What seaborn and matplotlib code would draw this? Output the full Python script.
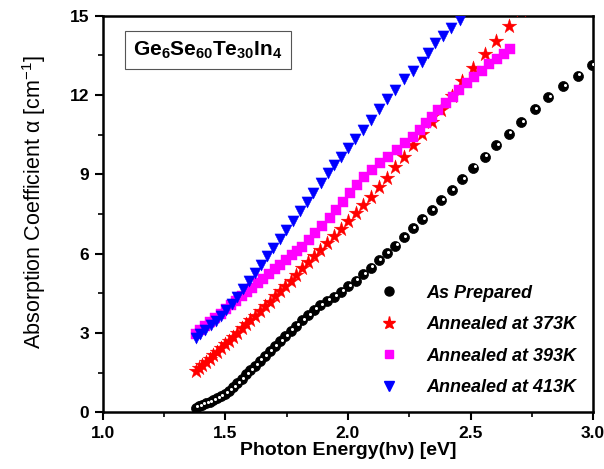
import numpy as np
import pandas as pd
import matplotlib
matplotlib.use("Agg")
import matplotlib.pyplot as plt
import matplotlib.transforms as mtransforms
from matplotlib.lines import Line2D
import seaborn as sns

# ---------------- data ----------------
E_prep = [1.378, 1.392, 1.406, 1.420, 1.435, 1.450, 1.466, 1.481, 1.498, 1.514,
          1.531, 1.548, 1.566, 1.584, 1.602, 1.621, 1.640, 1.660, 1.680, 1.701,
          1.722, 1.744, 1.766, 1.789, 1.813, 1.837, 1.862, 1.887, 1.914, 1.943,
          1.972, 2.001, 2.031, 2.062, 2.093, 2.125, 2.158, 2.192, 2.227, 2.264,
          2.302, 2.341, 2.381, 2.423, 2.466, 2.511, 2.558, 2.606, 2.656, 2.708,
          2.762, 2.818, 2.877, 2.938, 2.995]
a_prep = [0.17, 0.24, 0.29, 0.34, 0.39, 0.46, 0.53, 0.60, 0.70, 0.82,
          0.95, 1.09, 1.26, 1.43, 1.60, 1.77, 1.95, 2.13, 2.31, 2.50,
          2.68, 2.88, 3.08, 3.28, 3.48, 3.68, 3.88, 4.05, 4.22, 4.37,
          4.56, 4.78, 4.98, 5.22, 5.47, 5.76, 6.01, 6.30, 6.62, 6.96,
          7.30, 7.65, 8.03, 8.41, 8.81, 9.25, 9.67, 10.11, 10.54, 10.98,
          11.46, 11.91, 12.34, 12.73, 13.13]

E_373 = [1.378, 1.392, 1.406, 1.420, 1.435, 1.450, 1.466, 1.481, 1.498, 1.514,
         1.531, 1.548, 1.566, 1.584, 1.602, 1.621, 1.640, 1.660, 1.680, 1.701,
         1.722, 1.744, 1.766, 1.789, 1.813, 1.837, 1.862, 1.887, 1.914, 1.943,
         1.972, 2.001, 2.031, 2.062, 2.093, 2.125, 2.158, 2.192, 2.227, 2.264,
         2.302, 2.341, 2.381, 2.423, 2.466, 2.511, 2.558, 2.606, 2.656, 2.708]
a_373 = [1.55, 1.66, 1.78, 1.90, 2.02, 2.15, 2.29, 2.42, 2.57, 2.71,
         2.86, 3.01, 3.17, 3.33, 3.49, 3.66, 3.83, 4.01, 4.19, 4.38,
         4.57, 4.77, 4.98, 5.20, 5.44, 5.67, 5.90, 6.14, 6.39, 6.68,
         6.95, 7.23, 7.53, 7.85, 8.15, 8.51, 8.88, 9.26, 9.66, 10.10,
         10.51, 10.98, 11.45, 11.98, 12.53, 13.03, 13.55, 14.05, 14.62, 15.20]

E_393 = [1.378, 1.398, 1.418, 1.438, 1.459, 1.480, 1.501, 1.522, 1.544, 1.566,
         1.588, 1.610, 1.632, 1.655, 1.678, 1.701, 1.724, 1.747, 1.770, 1.792,
         1.813, 1.839, 1.864, 1.894, 1.925, 1.952, 1.980, 2.007, 2.037, 2.066,
         2.098, 2.132, 2.165, 2.200, 2.234, 2.265, 2.292, 2.319, 2.342, 2.369,
         2.399, 2.428, 2.455, 2.485, 2.515, 2.546, 2.577, 2.607, 2.635, 2.662]
a_393 = [2.95, 3.10, 3.26, 3.41, 3.57, 3.73, 3.89, 4.05, 4.22, 4.38,
         4.55, 4.72, 4.89, 5.06, 5.24, 5.41, 5.59, 5.76, 5.94, 6.10,
         6.27, 6.52, 6.77, 7.05, 7.34, 7.65, 7.97, 8.31, 8.60, 8.89,
         9.16, 9.42, 9.67, 9.92, 10.17, 10.42, 10.68, 10.93, 11.18, 11.43,
         11.69, 11.94, 12.19, 12.44, 12.67, 12.91, 13.16, 13.37, 13.55, 13.74]

E_413 = [1.378, 1.398, 1.418, 1.439, 1.460, 1.481, 1.503, 1.525, 1.548, 1.571,
         1.595, 1.619, 1.644, 1.669, 1.695, 1.721, 1.748, 1.775, 1.803, 1.831,
         1.859, 1.888, 1.917, 1.944, 1.971, 2.002, 2.030, 2.061, 2.094, 2.125,
         2.159, 2.193, 2.227, 2.265, 2.301, 2.328, 2.356, 2.387, 2.421, 2.457]
a_413 = [2.80, 2.96, 3.12, 3.29, 3.47, 3.66, 3.87, 4.10, 4.36, 4.65,
         4.96, 5.26, 5.58, 5.90, 6.23, 6.56, 6.90, 7.24, 7.60, 7.95,
         8.31, 8.67, 9.04, 9.35, 9.67, 9.98, 10.34, 10.68, 11.06, 11.47,
         11.85, 12.19, 12.61, 12.92, 13.26, 13.60, 13.96, 14.24, 14.52, 14.83]

labels = ["As Prepared", "Annealed at 373K", "Annealed at 393K", "Annealed at 413K"]
xticks = [1.0, 1.5, 2.0, 2.5, 3.0]
yticks = [0, 3, 6, 9, 12, 15]
title_text = r"Ge$_{\mathbf{6}}$Se$_{\mathbf{60}}$Te$_{\mathbf{30}}$In$_{\mathbf{4}}$"

# ---------------- style ----------------
sns.set_style("ticks")
plt.rcParams["font.family"] = ["Liberation Sans", "DejaVu Sans"]
plt.rcParams["mathtext.fontset"] = "custom"
plt.rcParams["mathtext.rm"] = "Liberation Sans"
plt.rcParams["mathtext.bf"] = "Liberation Sans:bold"
plt.rcParams["mathtext.it"] = "Liberation Sans:italic"
for k in ["text.color", "axes.labelcolor", "xtick.color", "ytick.color", "axes.edgecolor"]:
    plt.rcParams[k] = "black"

fig = plt.figure(figsize=(6.04, 4.69), dpi=100)
ax = fig.add_axes([0.1705, 0.1209, 0.8113, 0.8456])

df_prep = pd.DataFrame({"E": E_prep, "a": a_prep})
df_373 = pd.DataFrame({"E": E_373, "a": a_373})
df_393 = pd.DataFrame({"E": E_393, "a": a_393})
df_413 = pd.DataFrame({"E": E_413, "a": a_413})

sns.scatterplot(data=df_prep, x="E", y="a", ax=ax, marker="o", s=52,
                color="black", edgecolor="black", linewidth=0.5, zorder=3)
# sphere highlight
hl = mtransforms.offset_copy(ax.transData, fig=fig, x=1.2, y=1.0, units="points")
ax.plot(E_prep, a_prep, linestyle="none", marker="o", markersize=2.2,
        color="white", markeredgewidth=0, transform=hl, zorder=4, clip_on=True)
sns.scatterplot(data=df_373, x="E", y="a", ax=ax, marker="*", s=120,
                color="#ff0000", edgecolor="#ff0000", linewidth=0.3, zorder=3)
sns.scatterplot(data=df_393, x="E", y="a", ax=ax, marker="s", s=42,
                color="#ff00ff", edgecolor="#ff00ff", linewidth=0.3, zorder=3)
sns.scatterplot(data=df_413, x="E", y="a", ax=ax, marker="v", s=64,
                color="#0000ff", edgecolor="#0000ff", linewidth=0.3, zorder=3)

ax.set_xlim(1.0, 3.0)
ax.set_ylim(0, 15)
ax.set_xticks(xticks)
ax.set_xticklabels([f"{v:.1f}" for v in xticks])
ax.set_yticks(yticks)
ax.set_yticklabels([str(v) for v in yticks])
ax.set_xticks([1.25, 1.75, 2.25, 2.75], minor=True)
ax.set_yticks([1.5, 4.5, 7.5, 10.5, 13.5], minor=True)
ax.tick_params(axis="both", which="major", direction="out", length=6, width=1.5,
               labelsize=12.5, top=False, right=False, color="black", pad=4)
ax.tick_params(axis="both", which="minor", direction="out", length=3.5, width=1.2,
               top=False, right=False, color="black")
for lab in ax.get_xticklabels() + ax.get_yticklabels():
    lab.set_fontweight("bold")
for sp in ax.spines.values():
    sp.set_visible(True)
    sp.set_linewidth(1.8)
    sp.set_color("black")

ax.set_xlabel("Photon Energy(h\u03bd) [eV]", fontsize=14, fontweight="bold")
ax.set_ylabel("Absorption Coefficient \u03b1 [cm$^{-1}$]", fontsize=15.5)
ax.xaxis.set_label_coords(0.5, -0.075)
ax.yaxis.set_label_coords(-0.112, 0.53)

ax.text(0.062, 0.913, title_text, transform=ax.transAxes, fontsize=15,
        fontweight="bold", ha="left", va="center",
        bbox=dict(boxstyle="square,pad=0.4", facecolor="white",
                  edgecolor="#555555", linewidth=0.8))

handles = [
    Line2D([], [], linestyle="none", marker="o", markersize=6.5, color="black"),
    Line2D([], [], linestyle="none", marker="*", markersize=9.5, color="#ff0000"),
    Line2D([], [], linestyle="none", marker="s", markersize=6, color="#ff00ff"),
    Line2D([], [], linestyle="none", marker="v", markersize=7.5, color="#0000ff"),
]
leg = ax.legend(handles, labels, loc="lower right", bbox_to_anchor=(1.0, 0.0),
                frameon=False, prop={"weight": "bold", "style": "italic", "size": 13},
                labelspacing=0.8, handletextpad=1.6, borderaxespad=0.5,
                handlelength=1.0)

fig.savefig("out.png", dpi=100)
